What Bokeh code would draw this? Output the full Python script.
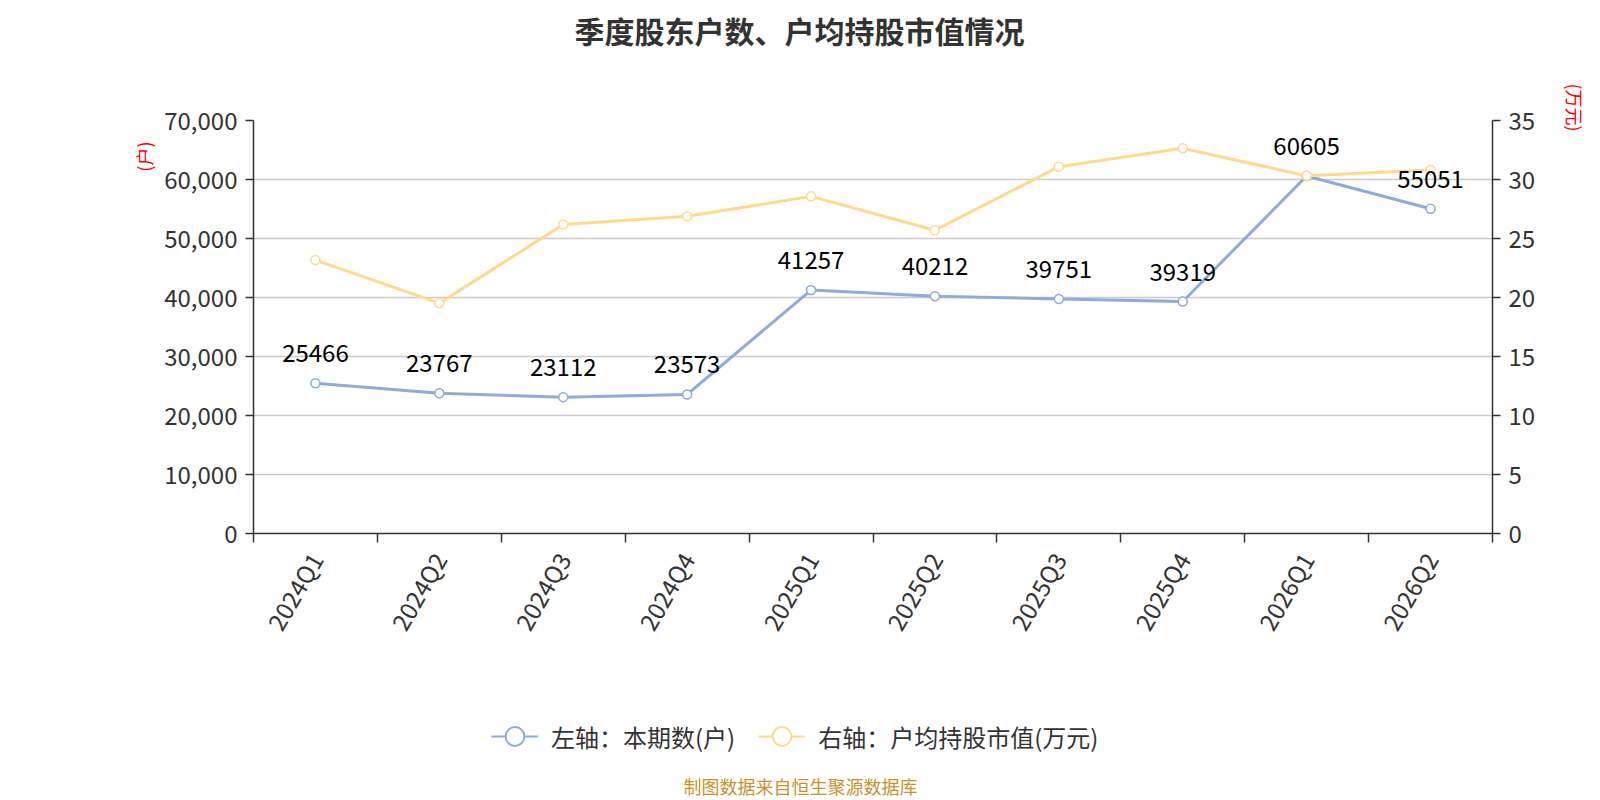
import math
from bokeh.plotting import figure
from bokeh.layouts import column
from bokeh.models import (Range1d, LinearAxis, FixedTicker, NumeralTickFormatter,
                          ColumnDataSource, Label, LabelSet, Legend, LegendItem, Title)
from bokeh.core.properties import value
from bokeh.embed import file_html
from bokeh.resources import INLINE

quarters = ["2024Q1", "2024Q2", "2024Q3", "2024Q4", "2025Q1",
            "2025Q2", "2025Q3", "2025Q4", "2026Q1", "2026Q2"]
holders = [25466, 23767, 23112, 23573, 41257, 40212, 39751, 39319, 60605, 55051]
avg_value = [23.17, 19.52, 26.18, 26.88, 28.57, 25.70, 31.08, 32.64, 30.31, 30.80]
left_ticks = [0, 10000, 20000, 30000, 40000, 50000, 60000, 70000]
right_ticks = [0, 5, 10, 15, 20, 25, 30, 35]

FONT = "Noto Sans CJK SC"
BLUE = "#8FAADC"
YELLOW = "#FFD98E"
TXT = "#333333"

W = 1600
H1, H2 = 660, 140
FL, FR, FT, FB = 253, 1492, 119, 533

xs = [i + 0.5 for i in range(len(quarters))]
src = ColumnDataSource(dict(x=xs, q=quarters, h=holders, v=avg_value,
                            lbl=[str(v) for v in holders]))

p = figure(width=W, height=H1, output_backend="svg", toolbar_location=None,
           x_range=Range1d(0, len(quarters)), y_range=Range1d(0, 70000),
           min_border_left=FL, min_border_right=W - FR, min_border_top=FT,
           min_border_bottom=H1 - FB)
p.outline_line_color = None
p.xgrid.visible = False
p.ygrid.grid_line_color = "#cccccc"
p.ygrid.grid_line_width = 1.5
p.ygrid.ticker = FixedTicker(ticks=left_ticks)

p.extra_y_ranges = {"r": Range1d(0, 35)}

# x axis: labels at band centres, ticks at band boundaries
xa = p.xaxis[0]
xa.ticker = FixedTicker(ticks=xs, minor_ticks=list(range(len(quarters) + 1)))
xa.major_label_overrides = {x: q for x, q in zip(xs, quarters)}
xa.major_tick_line_color = None
xa.minor_tick_line_color = TXT
xa.minor_tick_line_width = 1.5
xa.minor_tick_out = 9
xa.minor_tick_in = 0
xa.major_label_orientation = math.pi / 3
xa.major_label_text_font = FONT
xa.major_label_text_font_size = "24px"
xa.major_label_text_color = TXT
xa.axis_line_color = TXT
xa.axis_line_width = 1.5
xa.major_label_standoff = 12

ya = p.yaxis[0]
ya.ticker = FixedTicker(ticks=left_ticks)
ya.formatter = NumeralTickFormatter(format="0,0")
ya.major_tick_out = 8
ya.major_tick_in = 0
ya.minor_tick_line_color = None
ya.major_tick_line_color = TXT
ya.major_tick_line_width = 1.5
ya.axis_line_color = TXT
ya.axis_line_width = 1.5
ya.major_label_text_font = FONT
ya.major_label_text_font_size = "24px"
ya.major_label_text_color = TXT
ya.major_label_standoff = 8

ra = LinearAxis(y_range_name="r", ticker=FixedTicker(ticks=right_ticks))
ra.major_tick_out = 8
ra.major_tick_in = 0
ra.minor_tick_line_color = None
ra.major_tick_line_color = TXT
ra.major_tick_line_width = 1.5
ra.axis_line_color = TXT
ra.axis_line_width = 1.5
ra.major_label_text_font = FONT
ra.major_label_text_font_size = "24px"
ra.major_label_text_color = TXT
ra.major_label_standoff = 8
p.add_layout(ra, "right")

# series
p.line("x", "h", source=src, line_color=BLUE, line_width=3)
p.scatter("x", "h", source=src, size=9, fill_color="white", line_color=BLUE, line_width=1.5)
p.line("x", "v", source=src, line_color=YELLOW, line_width=3, y_range_name="r")
p.scatter("x", "v", source=src, size=9, fill_color="white", line_color=YELLOW,
          line_width=1.5, y_range_name="r")

labels = LabelSet(x="x", y="h", text="lbl", source=src, text_align="center",
                  text_baseline="bottom", y_offset=21, text_font=value(FONT),
                  text_font_size="24px", text_color="#000000")
p.add_layout(labels)

# title (spacer pushes it to the top of the canvas)
p.add_layout(Title(text=" ", text_font_size="46px"), "above")
p.title = Title(text="季度股东户数、户均持股市值情况", align="left", offset=321,
                text_font=FONT, text_font_size="30px", text_font_style="bold",
                text_color=TXT)

# axis unit notes
p.add_layout(Title(text="(户)", align="right", offset=21,
                   text_font=FONT, text_font_size="18px", text_font_style="normal",
                   text_color="#ff0000"), "left")
p.add_layout(Title(text=" ", text_font_size="5px"), "right")
p.add_layout(Title(text="(万元)", align="left", offset=-37,
                   text_font=FONT, text_font_size="18px", text_font_style="normal",
                   text_color="#ff0000"), "right")

# ---- legend + source note strip (its frame is aligned with the chart's) ----
q = figure(width=W, height=H2, output_backend="svg", toolbar_location=None,
           x_range=Range1d(0, 1), y_range=Range1d(0, 1), x_axis_type=None,
           y_axis_type=None, min_border=0)
q.outline_line_color = None
q.xgrid.visible = False
q.ygrid.visible = False
hidden = ColumnDataSource(dict(x=[float("nan")], y=[float("nan")]))
lb = q.line("x", "y", source=hidden, line_color=BLUE, line_width=2)
sb = q.scatter("x", "y", source=hidden, fill_color="white", line_color=BLUE, line_width=2)
ly = q.line("x", "y", source=hidden, line_color=YELLOW, line_width=2)
sy = q.scatter("x", "y", source=hidden, fill_color="white", line_color=YELLOW, line_width=2)
legend = Legend(items=[LegendItem(label="左轴：本期数(户)", renderers=[lb, sb]),
                       LegendItem(label="右轴：户均持股市值(万元)", renderers=[ly, sy])],
                orientation="horizontal", location=(491 - FL, 38),
                glyph_width=47, glyph_height=52, label_standoff=13, spacing=23,
                padding=0, margin=0, border_line_color=None, background_fill_alpha=0,
                label_text_font=FONT, label_text_font_size="24px", label_text_color=TXT)
q.add_layout(legend)
q.add_layout(Label(x=800 - FL, y=15, x_units="screen", y_units="screen",
                   text="制图数据来自恒生聚源数据库", text_align="center",
                   text_baseline="middle", text_font=FONT, text_font_size="18px",
                   text_color="#C9922B"))

layout = column(p, q, spacing=0)
open("out.html", "w").write(file_html(layout, INLINE))
